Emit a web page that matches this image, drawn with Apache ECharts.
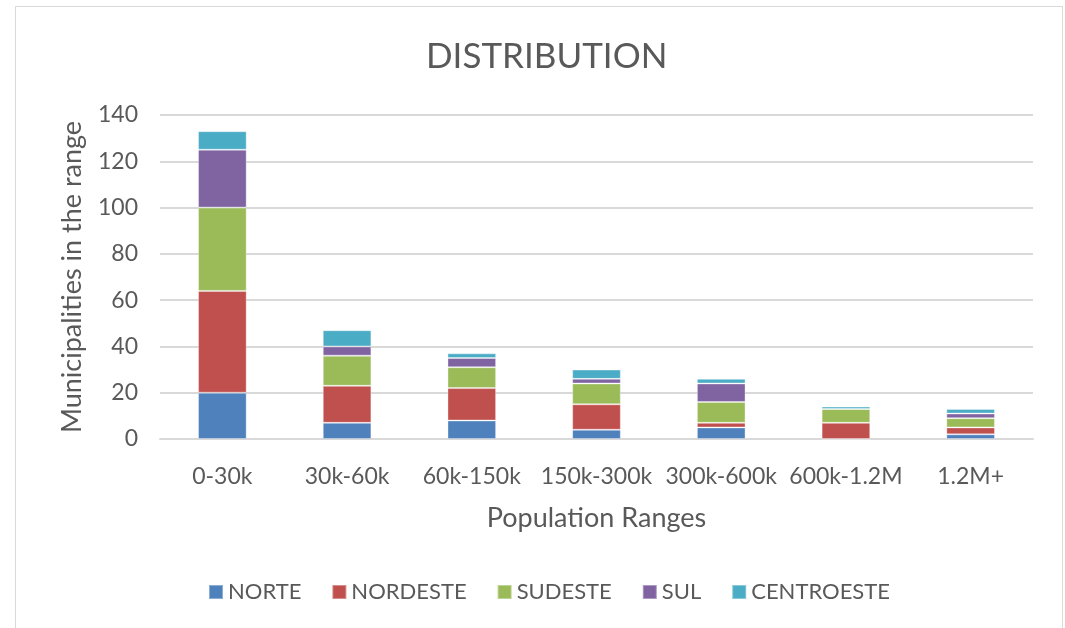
<!DOCTYPE html>
<html>
<head>
<meta charset="utf-8">
<script src="https://cdn.jsdelivr.net/npm/echarts@6/dist/echarts.min.js"></script>
<style>
html, body { margin: 0; padding: 0; background: #fff; }
#chart { width: 1065px; height: 628px; }
#frame { position: absolute; left: 15px; top: 6px; width: 1046px; height: 640px; border: 1px solid #d9d9d9; pointer-events: none; }
</style>
</head>
<body>
<div id="chart"></div>
<div id="frame"></div>
<script>
// population ranges on the x axis
const categories = ['0-30k', '30k-60k', '60k-150k', '150k-300k', '300k-600k', '600k-1.2M', '1.2M+'];
// municipalities per region
const norte = [20, 7, 8, 4, 5, 0, 2];
const nordeste = [44, 16, 14, 11, 2, 7, 3];
const sudeste = [36, 13, 9, 9, 9, 6, 4];
const sul = [25, 4, 4, 2, 8, 0, 2];
const centroeste = [8, 7, 2, 4, 2, 1, 2];

const font = 'Lato, "Open Sans", sans-serif';
const grey = '#595959';

const chart = echarts.init(document.getElementById('chart'));

function bar(name, data, color) {
    return {
        name: name,
        type: 'bar',
        stack: 'total',
        data: data,
        barWidth: '39%',
        itemStyle: { color: color, borderColor: 'rgba(255,255,255,0.35)', borderWidth: 1 },
        emphasis: { disabled: true }
    };
}

chart.setOption({
    animation: false,
    title: {
        text: 'DISTRIBUTION',
        left: 421,
        top: 34,
        textStyle: { fontFamily: font, fontSize: 35, fontWeight: 'normal', color: grey }
    },
    legend: {
        bottom: 20,
        left: 203,
        itemWidth: 14,
        itemHeight: 14,
        itemGap: 30,
        icon: 'rect',
        textStyle: { fontFamily: font, fontSize: 22, color: grey }
    },
    grid: { left: 160, right: 32, top: 115, bottom: 189 },
    xAxis: {
        type: 'category',
        data: categories,
        name: 'Population Ranges',
        nameLocation: 'middle',
        nameGap: 66,
        nameTextStyle: { fontFamily: font, fontSize: 27, color: grey },
        axisLine: { lineStyle: { color: '#d9d9d9', width: 2 } },
        axisTick: { show: false },
        axisLabel: { fontFamily: font, fontSize: 23, color: grey, margin: 26, interval: 0 }
    },
    yAxis: {
        type: 'value',
        min: 0,
        max: 140,
        interval: 20,
        name: 'Municipalities in the range',
        nameLocation: 'middle',
        nameGap: 74,
        nameTextStyle: { fontFamily: font, fontSize: 27, color: grey },
        axisLabel: { fontFamily: font, fontSize: 23, color: grey, margin: 22 },
        splitLine: { lineStyle: { color: '#d9d9d9', width: 2 } }
    },
    series: [
        bar('NORTE', norte, '#4F81BD'),
        bar('NORDESTE', nordeste, '#C0504D'),
        bar('SUDESTE', sudeste, '#9BBB59'),
        bar('SUL', sul, '#8064A2'),
        bar('CENTROESTE', centroeste, '#4BACC6')
    ]
});
</script>
</body>
</html>
